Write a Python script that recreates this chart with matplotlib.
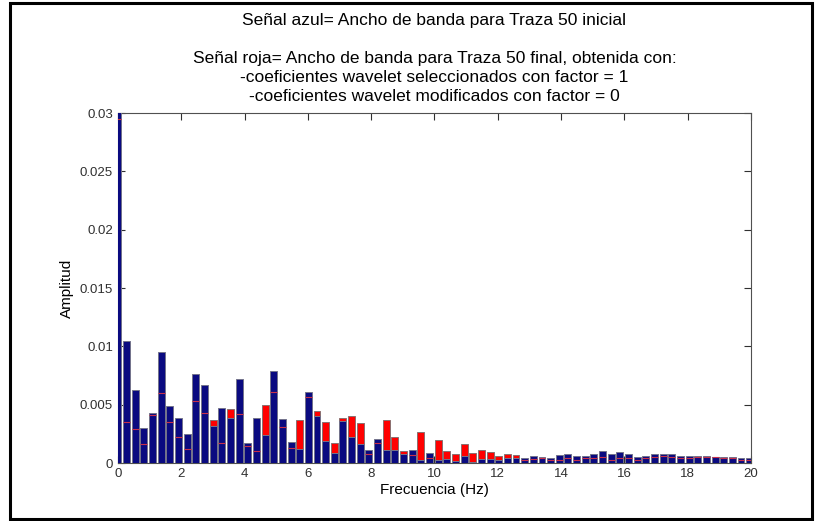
import numpy as np
import matplotlib
matplotlib.use('Agg')
import matplotlib.pyplot as plt
from matplotlib.patches import Rectangle

plt.rcParams['font.family'] = ['Liberation Sans', 'DejaVu Sans']

# frequency step of the spectrum (Hz)
df = 0.2734

# Amplitude spectrum of trace 50, initial (blue) and after wavelet filtering (red)
azul = [0.0305, 0.0105, 0.0063, 0.0030, 0.0043, 0.0095, 0.0049, 0.0039, 0.0025, 0.0076,
        0.0067, 0.0032, 0.0047, 0.0039, 0.0072, 0.0017, 0.0039, 0.0024, 0.0079, 0.0038,
        0.0018, 0.0012, 0.0061, 0.0040, 0.0019, 0.0009, 0.0036, 0.0022, 0.0016, 0.0011,
        0.0021, 0.0011, 0.0011, 0.0008, 0.0011, 0.00026, 0.0009, 0.0003, 0.00034, 0.00014,
        0.0006, 0.00011, 0.00037, 0.00037, 0.00026, 0.00046, 0.0004, 0.00046, 0.0006, 0.00051,
        0.0004, 0.00069, 0.00074, 0.00063, 0.00063, 0.00074, 0.00103, 0.00074, 0.00091, 0.0008,
        0.00054, 0.00063, 0.0008, 0.0008, 0.00074, 0.00063, 0.00058, 0.0006, 0.0006, 0.00054,
        0.00054, 0.00049, 0.0004, 0.0004]
roja = [0.0295, 0.0035, 0.0029, 0.0016, 0.0041, 0.0060, 0.0035, 0.0022, 0.0012, 0.0053,
        0.0043, 0.0037, 0.0017, 0.0046, 0.0042, 0.0015, 0.0010, 0.0050, 0.0061, 0.0031,
        0.0013, 0.0037, 0.0057, 0.0045, 0.0035, 0.0017, 0.0039, 0.0040, 0.0034, 0.0008,
        0.0017, 0.0037, 0.0022, 0.0010, 0.0007, 0.00266, 0.0004, 0.00194, 0.00103, 0.00074,
        0.00166, 0.00083, 0.00114, 0.00091, 0.0006, 0.00077, 0.00069, 0.0003, 0.00037, 0.0004,
        0.0003, 0.00028, 0.0004, 0.0003, 0.00045, 0.0004, 0.0005, 0.0003, 0.0004, 0.00045,
        0.0003, 0.0004, 0.0005, 0.0006, 0.0005, 0.0004, 0.0004, 0.0005, 0.0005, 0.0005,
        0.0004, 0.0004, 0.0003, 0.0003]

titulo = ['Señal azul= Ancho de banda para Traza 50 inicial',
          '',
          'Señal roja= Ancho de banda para Traza 50 final, obtenida con:',
          '-coeficientes wavelet seleccionados con factor = 1',
          '-coeficientes wavelet modificados con factor = 0']

freq = np.arange(len(azul)) * df
azul = np.array(azul)
roja = np.array(roja)
w = 0.8 * df

fig = plt.figure(figsize=(8.17, 5.21), dpi=100)
ax = fig.add_axes([0.1444, 0.1113, 0.7748, 0.6718])

# red drawn first, blue over it; thin red marks where red is under blue
ax.bar(freq, roja, width=w, color='#ff0000', edgecolor='#8a7070', linewidth=0.7, zorder=2)
ax.bar(freq, azul, width=w, color='#0a0a80', edgecolor='#74748c', linewidth=0.7, zorder=3)
low = roja < azul
ax.hlines(roja[low], freq[low] - w / 2, freq[low] + w / 2, colors='#c8304a',
          linewidth=0.8, zorder=4)

ax.set_xlim(0, 20)
ax.set_ylim(0, 0.03)
ax.set_xticks(np.arange(0, 21, 2))
ax.set_yticks([0, 0.005, 0.01, 0.015, 0.02, 0.025, 0.03])
ax.set_yticklabels(['0', '0.005', '0.01', '0.015', '0.02', '0.025', '0.03'])
ax.tick_params(direction='in', top=True, right=True, length=5, width=0.8,
               labelsize=9.5, colors='#303030', labelcolor='#303030')
for s in ax.spines.values():
    s.set_color('#505050')
    s.set_linewidth(0.8)

ax.set_xlabel('Frecuencia (Hz)', fontsize=11, labelpad=2)
ax.set_ylabel('Amplitud', fontsize=11, labelpad=4)
ax.set_title('\n'.join(titulo), fontsize=12.5, linespacing=1.33, pad=9)

# frame around the whole figure
fig.patches.append(Rectangle((0.0122, 0.0038), 0.9817, 0.9904, transform=fig.transFigure,
                             fill=False, edgecolor='black', linewidth=2.2))

fig.savefig('out.png', dpi=100)
